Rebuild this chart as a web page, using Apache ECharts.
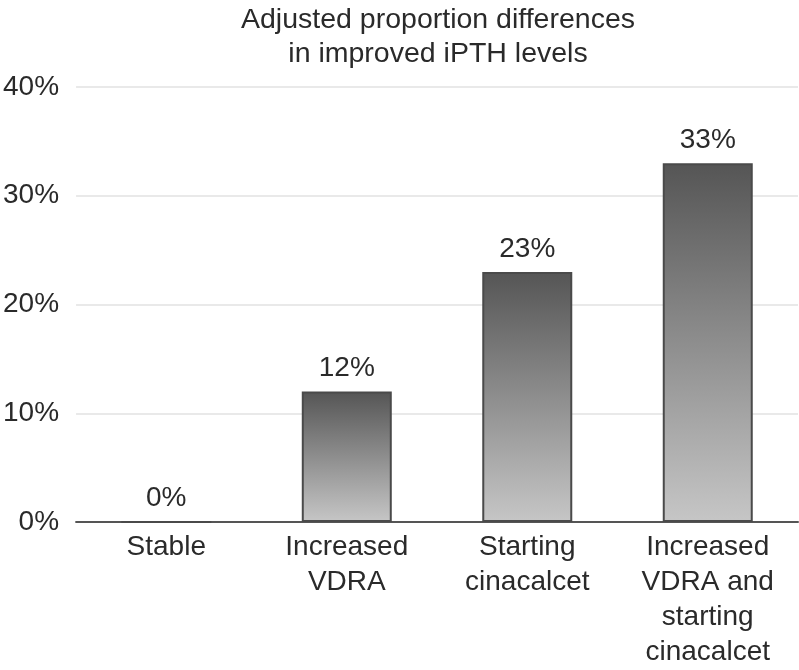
<!DOCTYPE html>
<html>
<head>
<meta charset="utf-8">
<script src="https://cdn.jsdelivr.net/npm/echarts@6/dist/echarts.min.js"></script>
<style>
html,body{margin:0;padding:0;background:#fff;}
#chart{width:799px;height:670px;}
</style>
</head>
<body>
<div id="chart"></div>
<script>
const titleText = 'Adjusted proportion differences\nin improved iPTH levels';
const categories = ['Stable', 'Increased\nVDRA', 'Starting\ncinacalcet', 'Increased\nVDRA and\nstarting\ncinacalcet'];
const values = [0, 12, 23, 33];
const yTicks = [0, 10, 20, 30, 40];

const FONT = '"Liberation Sans", Arial, Helvetica, sans-serif';
const chart = echarts.init(document.getElementById('chart'), null, {renderer: 'canvas'});
chart.setOption({
  backgroundColor: '#ffffff',
  animation: false,
  title: {
    text: titleText,
    left: 433,
    top: -2,
    textAlign: 'center',
    textStyle: {fontFamily: FONT, fontSize: 28.5, fontWeight: 'normal', color: '#2a2a2a', lineHeight: 34}
  },
  grid: {left: 74, right: 1, top: 87, bottom: 146, containLabel: false},
  xAxis: {
    type: 'category',
    data: categories,
    axisLine: {lineStyle: {color: '#555', width: 2}},
    axisTick: {show: false},
    axisLabel: {fontFamily: FONT, fontSize: 28, color: '#2a2a2a', lineHeight: 35, margin: 8, interval: 0}
  },
  yAxis: {
    type: 'value',
    min: yTicks[0],
    max: yTicks[yTicks.length - 1],
    interval: 10,
    axisLine: {show: false},
    axisTick: {show: false},
    splitLine: {lineStyle: {color: '#e2e2e2', width: 1.5}},
    axisLabel: {fontFamily: FONT, fontSize: 28, color: '#2a2a2a', margin: 17, formatter: '{value}%'}
  },
  series: [{
    type: 'bar',
    data: values,
    barWidth: 90,
    itemStyle: {
      color: new echarts.graphic.LinearGradient(0, 0, 0, 1, [
        {offset: 0, color: '#555555'},
        {offset: 1, color: '#c6c6c6'}
      ]),
      borderColor: '#4a4a4a',
      borderWidth: 2
    },
    label: {
      show: true,
      position: 'top',
      distance: 9,
      formatter: '{c}%',
      fontFamily: FONT,
      fontSize: 28,
      color: '#2a2a2a'
    }
  }]
});
</script>
</body>
</html>
